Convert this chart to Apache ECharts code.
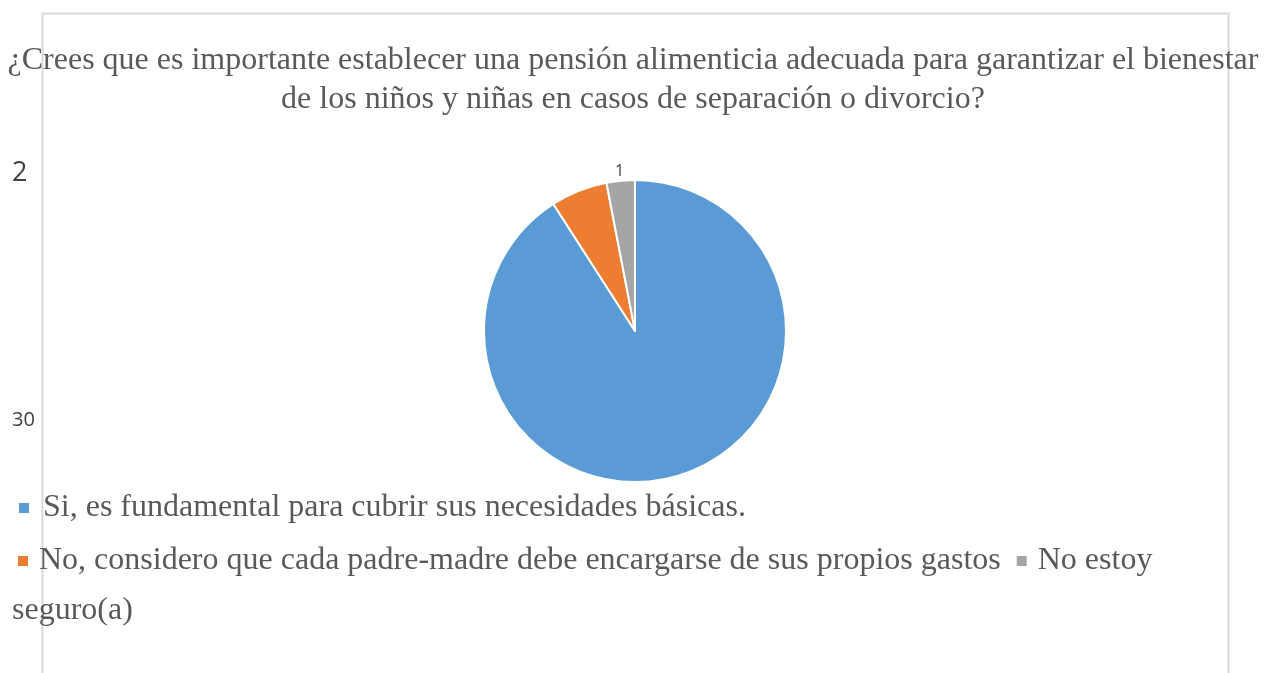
<!DOCTYPE html>
<html lang="es">
  <head>
    <meta charset="UTF-8" />
    <title>Pensión alimenticia</title>
    <script src="https://cdn.jsdelivr.net/npm/echarts@6/dist/echarts.min.js"></script>
    <style>
      html, body { margin: 0; padding: 0; background: #fff; }
    </style>
  </head>
  <body>
    <div id="main" style="width: 1266px;height:673px;"></div>
    <script type="text/javascript">
      var myChart = echarts.init(document.getElementById('main'))

      // respuestas de la encuesta
      var categories = [
        'Si, es fundamental para cubrir sus necesidades básicas.',
        'No, considero que cada padre-madre debe encargarse de sus propios gastos',
        'No estoy seguro(a)'
      ]
      var values = [30, 2, 1]
      var colors = ['#5b9bd5', '#ed7d31', '#a5a5a5']
      // tamaño de letra de cada etiqueta (como en el original)
      var labelSizes = [20, 27, 16]

      var serif = 'Liberation Serif'
      function legendText(gap) {
        return {
          fontFamily: serif,
          fontSize: 32,
          lineHeight: 36,
          color: '#595959',
          padding: [0, 0, 0, gap]
        }
      }

      var pieData = categories.map(function (name, i) {
        return {
          name: name,
          value: values[i],
          itemStyle: { color: colors[i] },
          label: { fontSize: labelSizes[i] }
        }
      })

      const option = {
        animation: false,
        title: {
          text: '¿Crees que es importante establecer una pensión alimenticia adecuada para garantizar el bienestar\nde los niños y niñas en casos de separación o divorcio?',
          left: 'center',
          top: 36,
          textStyle: {
            fontFamily: serif,
            fontSize: 32,
            fontWeight: 'normal',
            color: '#595959',
            lineHeight: 39
          }
        },
        legend: [
          {
            left: 12,
            top: 485,
            padding: 5,
            icon: 'rect',
            itemWidth: 12,
            itemHeight: 12,
            itemGap: 16,
            data: [categories[0]],
            textStyle: legendText(8)
          },
          {
            left: 11,
            top: 538,
            padding: 5,
            icon: 'rect',
            itemWidth: 12,
            itemHeight: 12,
            itemGap: 14,
            data: [categories[1], categories[2]],
            // la última entrada continúa en la línea siguiente
            formatter: function (name) {
              return name === categories[2] ? 'No estoy' : name
            },
            textStyle: legendText(5)
          }
        ],
        graphic: [
          {
            type: 'rect',
            z: -10,
            silent: true,
            shape: { x: 42.5, y: 13.5, width: 1186, height: 720 },
            style: { fill: 'none', stroke: '#d9d9d9', lineWidth: 2 }
          },
          {
            type: 'text',
            x: 12,
            y: 611,
            style: {
              text: 'seguro(a)',
              font: '32px "Liberation Serif"',
              fill: '#595959',
              verticalAlign: 'middle'
            }
          }
        ],
        series: [
          {
            type: 'pie',
            center: [635, 331],
            radius: 151,
            startAngle: 90,
            clockwise: true,
            data: pieData,
            itemStyle: { borderColor: '#fff', borderWidth: 2 },
            label: {
              show: true,
              formatter: '{c}',
              fontFamily: 'Open Sans',
              color: '#404040'
            },
            labelLine: { show: false },
            // las etiquetas quedan sueltas, como en el gráfico original
            labelLayout: function (params) {
              var spots = [
                { x: 12, y: 420 },
                { x: 12, y: 173 },
                { x: 615, y: 171 }
              ]
              var p = spots[params.dataIndex]
              return { x: p.x, y: p.y, align: 'left', verticalAlign: 'middle' }
            }
          }
        ]
      }

      myChart.setOption(option)
    </script>
  </body>
</html>
